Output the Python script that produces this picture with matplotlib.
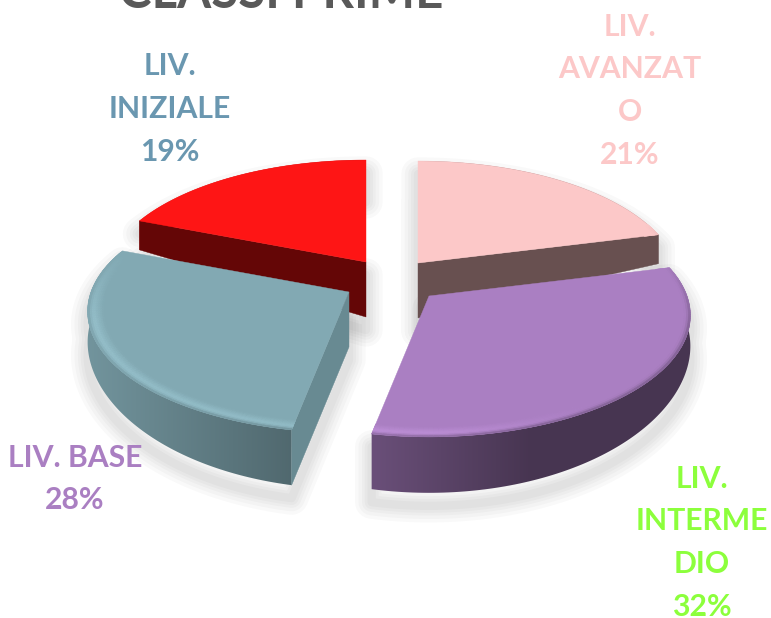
import numpy as np
import matplotlib
matplotlib.use("Agg")
import matplotlib.pyplot as plt
from matplotlib.collections import PolyCollection
from matplotlib.patches import Polygon

categories = ["LIV. AVANZATO", "LIV. INTERMEDIO", "LIV. BASE", "LIV. INIZIALE"]
values = [21, 32, 28, 19]
title = "CLASSI PRIME"
face_colors = ["#fcc8c8", "#aa7fc2", "#82a9b3", "#fe1515"]
cut_colors = ["#685050", None, "#688a92", "#640606"]
label_lines = [["LIV.", "AVANZAT", "O", "21%"],
               ["LIV.", "INTERME", "DIO", "32%"],
               ["LIV. BASE", "28%"],
               ["LIV.", "INIZIALE", "19%"]]
label_colors = ["#fcc8c8", "#8cff3c", "#aa7fc2", "#6a97b0"]
label_x = [630, 702, 75, 170]
label_y = [27, 479, 458, 66]
line_gaps = [42.5, 42.5, 42, 43]
apex_xy = [(418, 263), (429, 296), (349, 292), (366, 262)]
cut_end = [-1, 0, 0, 0]

A, B, K = 258.0, 118.3, 0.16

def proj(t, r=1.0):
    X, Y = r * np.sin(t), -r * np.cos(t)
    s = 1 / (1 - K * Y)
    return A * X * s, B * Y * s, Y

def depth(Y):
    return 29 + 27 * np.clip(Y, 0, 1) ** 1.5

def rgb(c):
    return np.array(matplotlib.colors.to_rgb(c))

def shade(x):
    return np.interp(x, [85, 290, 375, 530, 700], [0.88, 0.62, 0.62, 0.42, 0.42])

plt.rcParams["font.family"] = ["Lato", "DejaVu Sans"]
fig = plt.figure(figsize=(7.71, 6.18), dpi=100)
ax = fig.add_axes([0, 0, 1, 1])
ax.axis("off")

edges = np.cumsum([0] + values) / sum(values) * 2 * np.pi
apex_depth = 55
N = 120

wedges = []
for i in range(len(values)):
    t = np.linspace(edges[i], edges[i + 1], N)
    x, y, Y = proj(t)
    ax0, ay0 = apex_xy[i]
    wedges.append((t, ax0 + x, ay0 + y, Y, ax0, ay0))

# soft shadows, offset downward so the back edges stay clean
for (t, x, y, Y, ax0, ay0) in wedges:
    sx = np.r_[ax0, x, x[::-1], ax0]
    sy = np.r_[ay0, y, (y + depth(Y))[::-1], ay0 + apex_depth]
    for lw in [24, 19, 14, 10, 6]:
        ax.add_patch(Polygon(np.c_[sx, sy + 13], closed=True, fc="none", ec=(0, 0, 0, 0.022),
                             lw=lw, joinstyle="round", zorder=1))

gx = np.arange(0, 771)
for i in [3, 0, 2, 1]:
    t, x, y, Y, ax0, ay0 = wedges[i]
    zo = 2 + [3, 0, 2, 1].index(i) * 0.1
    base = rgb(face_colors[i])
    d = depth(Y)
    # outer rim: smooth left-to-right gradient clipped to the rim outline
    grad = np.clip(base[None, None, :] * shade(gx)[None, :, None], 0, 1)
    rim_poly = Polygon(np.c_[np.r_[x, x[::-1]], np.r_[y, (y + d)[::-1]]], closed=True,
                       transform=ax.transData, fc="none", ec="none")
    ax.add_patch(rim_poly)
    im = ax.imshow(grad, extent=(0, 771, 618, 0), aspect="auto", interpolation="bilinear", zorder=zo)
    im.set_clip_path(rim_poly)
    # straight cut face
    if cut_colors[i]:
        j = cut_end[i]
        ax.add_patch(Polygon([(ax0, ay0), (x[j], y[j]), (x[j], y[j] + d[j]),
                              (ax0, ay0 + apex_depth)], closed=True,
                             fc=cut_colors[i], ec=cut_colors[i], lw=0.3, zorder=zo + 0.01))
    # top face
    ax.add_patch(Polygon(np.c_[np.r_[ax0, x], np.r_[ay0, y]], closed=True,
                         fc=base, ec=base, lw=0.3, zorder=zo + 0.02))
    # bevel along the front of the rim
    rings = np.linspace(0.94, 1.0, 9)
    quads, cols = [], []
    for j in range(N - 1):
        w = np.clip((Y[j] + 0.35) / 0.6, 0, 1)
        if w <= 0:
            continue
        rim = base * (0.5 + 0.5 * shade(x[j]))
        strength = np.interp(x[j], [85, 450, 600], [1.0, 0.8, 0.0])
        light = base + (np.clip(base * 1.08 + 0.03, 0, 1) - base) * strength
        for m in range(len(rings) - 1):
            u = (m + 0.5) / (len(rings) - 1)
            if u < 0.6:
                c = base + (light - base) * (u / 0.6)
            else:
                c = light + (rim - light) * ((u - 0.6) / 0.4) ** 2
            c = base + (c - base) * w
            xa, ya, _ = proj(t[j], rings[m]); xb, yb, _ = proj(t[j + 1], rings[m])
            xc, yc, _ = proj(t[j + 1], rings[m + 1]); xd, yd, _ = proj(t[j], rings[m + 1])
            quads.append([(ax0 + xa, ay0 + ya), (ax0 + xb, ay0 + yb),
                          (ax0 + xc, ay0 + yc), (ax0 + xd, ay0 + yd)])
            cols.append(c)
    if quads:
        ax.add_collection(PolyCollection(quads, facecolors=cols, edgecolors=cols, lw=0.4, zorder=zo + 0.03))

ax.set_xlim(0, 771)
ax.set_ylim(618, 0)

# text
ax.text(281, 8, title, ha="center", va="baseline", fontsize=35.4, fontweight="bold", color="#595959")
for lines, col, lx, ly, gap in zip(label_lines, label_colors, label_x, label_y, line_gaps):
    for n, s in enumerate(lines):
        ax.text(lx, ly + n * gap, s, ha="center", va="center", fontsize=21.7, fontweight="bold", color=col)

fig.savefig("out.png", dpi=100)
